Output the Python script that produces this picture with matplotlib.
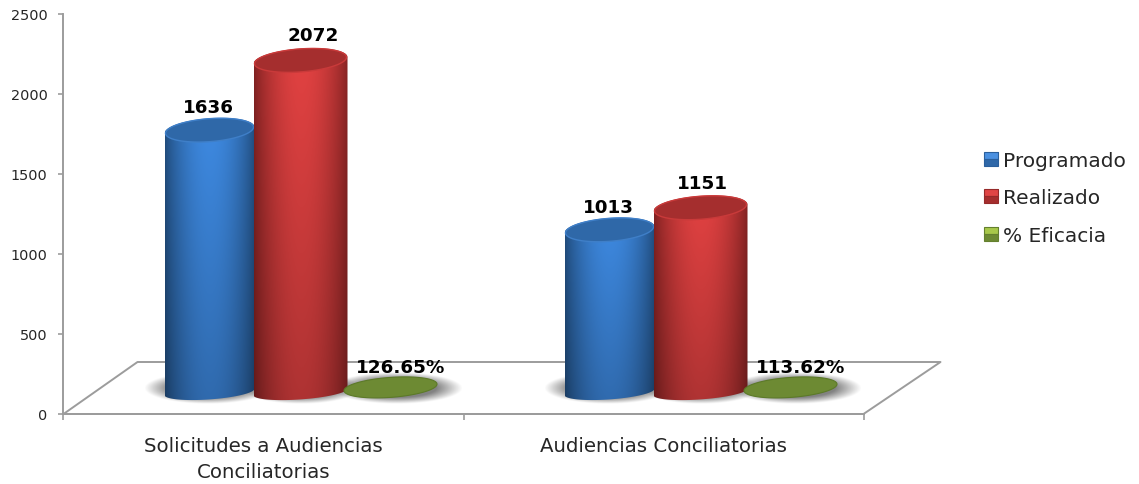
import numpy as np
import matplotlib
matplotlib.use("Agg")
import matplotlib.pyplot as plt
from matplotlib.path import Path
from matplotlib.patches import PathPatch
from matplotlib.lines import Line2D

categories = ["Solicitudes a Audiencias\nConciliatorias", "Audiencias Conciliatorias"]
series_names = ["Programado", "Realizado", "% Eficacia"]
programado = [1636, 1013]
realizado = [2072, 1151]
eficacia = [1.2665, 1.1362]
eficacia_labels = ["126.65%", "113.62%"]
y_ticks = [0, 500, 1000, 1500, 2000, 2500]

W, H = 1139, 485
plt.rcParams['font.family'] = ['DejaVu Sans']
fig = plt.figure(figsize=(W / 100, H / 100), dpi=100)
L, R, T, B = 63.5, 863.5, 15, 415
ax = fig.add_axes([L / W, 1 - B / H, (R - L) / W, (B - T) / H])

PX_X = 1 / 400         # data x per pixel
PX_Y = 2500 / (B - T)  # data y per pixel
BASE = 138             # apparent floor offset of the 3D bars, data units
DISC_BASE = 165
TILT = 0.07
GRAY = "#9c9c9c"
TXT = "#262626"


def ellipse(cx, cy, a_px, b_px, t):
    x = cx + a_px * np.cos(t) * PX_X
    y = cy + (b_px * np.sin(t) + TILT * a_px * np.cos(t)) * PX_Y
    return x, y


def grad_image(edge, centre, fade, extent, clip, z):
    u = np.linspace(0, 1, 120)
    v = np.linspace(0, 1, 80)
    s = np.sin(np.pi * u) ** 0.8
    edge, centre = np.array(edge), np.array(centre)
    rgb = edge[None, None, :] + (centre - edge)[None, None, :] * s[None, :, None]
    f = fade + (1 - fade) * v[:, None, None]
    rgb = rgb * f
    im = ax.imshow(np.clip(rgb, 0, 1), origin="lower", extent=extent, aspect="auto",
                   zorder=z, interpolation="bilinear")
    im.set_clip_path(clip)


def cylinder(cx, a_px, value, edge, centre, top_col, rim, z):
    top = BASE + value
    bx, by = ellipse(cx, BASE, a_px, 7.5, np.linspace(np.pi, 2 * np.pi, 60))
    tx, ty = ellipse(cx, top, a_px, 12, np.linspace(0, np.pi, 60))
    verts = np.c_[np.r_[bx, tx], np.r_[by, ty]]
    body = PathPatch(Path(np.vstack([verts, verts[0]]), closed=True), fc="none", ec="none",
                     transform=ax.transData)
    ax.add_patch(body)
    grad_image(matplotlib.colors.to_rgb(edge), matplotlib.colors.to_rgb(centre), 0.76,
               [cx - a_px * PX_X, cx + a_px * PX_X, BASE - 20 * PX_Y, top + 15 * PX_Y], body, z)
    ex, ey = ellipse(cx, top, a_px - 1, 11.5, np.linspace(0, 2 * np.pi, 120))
    ax.fill(ex, ey, fc=top_col, ec=rim, lw=1.0, zorder=z + 0.1)


def disc(cx, a_px, value, fc, ec, z):
    ex, ey = ellipse(cx, DISC_BASE + value, a_px, 10, np.linspace(0, 2 * np.pi, 120))
    ax.fill(ex, ey, fc=fc, ec=ec, lw=0.8, zorder=z)


def shadow(cx, a_px, b_px, z):
    xx, yy = np.meshgrid(np.linspace(-1, 1, 120), np.linspace(-1, 1, 60))
    r = np.sqrt(xx ** 2 + yy ** 2)
    alpha = np.clip((1 - r) / 0.4, 0, 1) * 0.85
    img = np.zeros(xx.shape + (4,))
    img[..., :3] = 0.42
    img[..., 3] = alpha
    cy = DISC_BASE
    ax.imshow(img, origin="lower", aspect="auto", zorder=z, interpolation="bilinear",
              extent=[cx - a_px * PX_X, cx + a_px * PX_X, cy - b_px * PX_Y, cy + b_px * PX_Y])


# floor
floor_x = [0, 0.185, 2.1925, 2, 0]
floor_y = [0, 325, 325, 0, 0]
ax.plot(floor_x, floor_y, color=GRAY, lw=1.4, clip_on=False, zorder=1)

centres = np.array([0.5, 1.5])
off_blue, off_red, off_green = -0.135, 0.0925, 0.3175
for i, c in enumerate(centres):
    shadow(c + off_blue - 0.005, 64, 16, 2)
    shadow(c + off_red, 60, 16, 2)
    shadow(c + off_green + 0.015, 66, 16, 2)
    cylinder(c + off_blue, 45, programado[i], "#214d7e", "#3e8ae2", "#2f68a8", "#3f7fc8", 3)
    cylinder(c + off_red, 47, realizado[i], "#822222", "#e34242", "#a52e2e", "#c93a3a", 4)
    disc(c + off_green, 46.5, eficacia[i], "#6d8a33", "#5c7a28", 5)

for i, c in enumerate(centres):
    ax.annotate(str(programado[i]), (c + off_blue, BASE + programado[i]), xytext=(-0.8, 10.2),
                textcoords="offset points", ha="center", va="bottom", fontsize=13.2,
                fontweight="bold", color="black", zorder=10, annotation_clip=False)
    ax.annotate(str(realizado[i]), (c + off_red, BASE + realizado[i]),
                xytext=(9.2 if i == 0 else 1.7, 11.5), textcoords="offset points", ha="center",
                va="bottom", fontsize=13.2, fontweight="bold", color="black", zorder=10,
                annotation_clip=False)
    ax.annotate(eficacia_labels[i], (c + off_green, DISC_BASE + eficacia[i]),
                xytext=(7.2, 8.5), textcoords="offset points", ha="center", va="bottom",
                fontsize=13.2, fontweight="bold", color="black", zorder=10, annotation_clip=False)

ax.set_xlim(0, 2)
ax.set_ylim(0, 2500)
ax.set_yticks(y_ticks)
ax.set_xticks([0, 1, 2])
ax.set_xticklabels([])
ax.set_xticks(centres, labels=categories, minor=True)
ax.tick_params(axis="x", which="major", length=4.3, width=1.2, color=GRAY)
ax.tick_params(axis="x", which="minor", length=0, pad=15.5, labelsize=14.2, labelcolor=TXT)
ax.tick_params(axis="y", length=3.6, width=1.2, color=GRAY, labelsize=10.4, labelcolor=TXT, pad=8)
for lab in ax.get_xticklabels(minor=True):
    lab.set_linespacing(1.53)
for s in ("top", "right"):
    ax.spines[s].set_visible(False)
for s in ("left", "bottom"):
    ax.spines[s].set_color(GRAY)
    ax.spines[s].set_linewidth(1.4)

handles = [
    Line2D([], [], ls="none", marker="s", ms=9.5, fillstyle="top", mfc="#4a90e0", markerfacecoloralt="#2f68a8", mec="#2a5f9c", mew=0.8),
    Line2D([], [], ls="none", marker="s", ms=9.5, fillstyle="top", mfc="#e04545", markerfacecoloralt="#a52e2e", mec="#962a2a", mew=0.8),
    Line2D([], [], ls="none", marker="s", ms=9.5, fillstyle="top", mfc="#a8c84a", markerfacecoloralt="#6d8a33", mec="#64802e", mew=0.8),
]
fig.legend(handles, series_names, loc="center left", bbox_to_anchor=(981 / W, 1 - 199 / H),
           frameon=False, fontsize=14.5, labelspacing=0.93, handlelength=1.0, handletextpad=0.1,
           labelcolor=TXT, borderpad=0, borderaxespad=0)

fig.savefig("out.png", dpi=100)
